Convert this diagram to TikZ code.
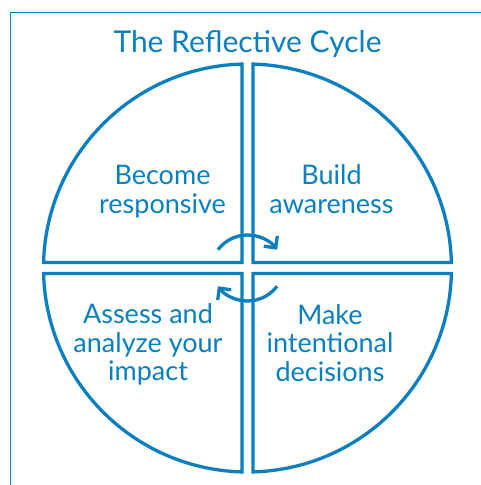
\documentclass[tikz,border=0pt]{standalone}
\usepackage{fontspec}
\setmainfont{Lato}
\usetikzlibrary{arrows.meta}
\begin{document}
\begin{tikzpicture}[x=1pt, y=1pt,
  quarter/.style={draw=cyc, line width=3.3pt, line join=miter},
  turn/.style={draw=cyc, line width=3.3pt, -{Straight Barb[angle=90:12pt]}},
  stage/.style={text=cyc, align=center, anchor=base, font=\fontsize{27}{28.5}\selectfont}]
\definecolor{cyc}{HTML}{0A7FBF}
\useasboundingbox (-247.5,-217) rectangle (233.5,268);
\draw[cyc, line width=1pt] (240,255.5) -| (-237,-225);
\node[stage, font=\fontsize{30}{34}\selectfont] (title) at (0,215) {The Reflective Cycle};
\foreach \a in {0,90,180,270}
  \draw[quarter, rotate=\a] (5.5,5.5) -- (1.545:204) arc[start angle=1.545, end angle=88.455, radius=204] -- cycle;
\node[stage] (respond) at (-85,55) {Become\\responsive};
\node[stage] (aware) at (84,55) {Build\\awareness};
\node[stage] (assess) at (-99.5,-112.5) {Assess and\\analyze your\\impact};
\node[stage] (decide) at (82.5,-113) {Make\\intentional\\decisions};
\coordinate (turnA) at ([shift={(0,-4)}]143:37);
\coordinate (turnB) at ([shift={(0,4)}]-37:37);
\draw[turn] (turnA) arc[start angle=143, end angle=37, radius=37];
\draw[turn] (turnB) arc[start angle=-37, end angle=-143, radius=37];
\end{tikzpicture}
\end{document}
